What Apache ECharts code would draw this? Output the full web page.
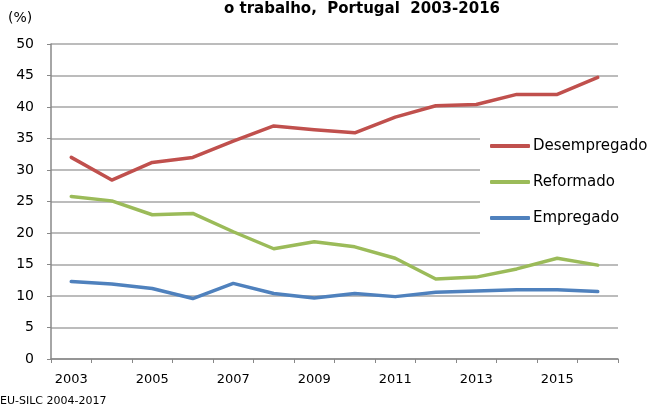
<!DOCTYPE html>
<html>
<head>
<meta charset="utf-8">
<script src="https://cdn.jsdelivr.net/npm/echarts@6/dist/echarts.min.js"></script>
<style>
    html, body { margin: 0; padding: 0; background: #fff; }
    #chart { width: 649px; height: 407px; }
</style>
</head>
<body>
<div id="chart"></div>
<script>
// anos e valores (%)
var years = ["2003", "2004", "2005", "2006", "2007", "2008", "2009", "2010", "2011", "2012", "2013", "2014", "2015", "2016"];
var desempregado = [32.0, 28.4, 31.2, 32.0, 34.6, 37.0, 36.4, 35.9, 38.4, 40.2, 40.4, 42.0, 42.0, 44.7];
var reformado = [25.8, 25.1, 22.9, 23.1, 20.2, 17.5, 18.6, 17.8, 16.0, 12.7, 13.0, 14.3, 16.0, 14.9];
var empregado = [12.3, 11.9, 11.2, 9.6, 12.0, 10.4, 9.7, 10.4, 9.9, 10.6, 10.8, 11.0, 11.0, 10.7];

var font = "DejaVu Sans";
var myChart = echarts.init(document.getElementById("chart"));

function makeLine(name, data, color) {
    return {
        name: name,
        type: "line",
        data: data,
        symbol: "none",
        lineStyle: { color: color, width: 3.5, cap: "round", join: "round" },
        itemStyle: { color: color },
    };
}

var option = {
    animation: false,
    backgroundColor: "#fff",
    grid: { left: 51, right: 31, top: 44, bottom: 48 },
    graphic: [
        {
            type: "text", x: 362, y: 9,
            style: { text: "o trabalho,  Portugal  2003-2016", font: "bold 15px " + font, fill: "#000", textAlign: "center", textVerticalAlign: "middle" },
        },
        {
            type: "text", left: 8, top: 11,
            style: { text: "(%)", font: "14px " + font, fill: "#000" },
        },
        {
            type: "text", left: 0, top: 396,
            style: { text: "EU-SILC 2004-2017", font: "11px " + font, fill: "#000" },
        },
    ],
    legend: {
        orient: "vertical",
        left: 480,
        top: 128,
        padding: [10, 20, 16, 10],
        backgroundColor: "#fff",
        icon: "roundRect",
        itemWidth: 40,
        itemHeight: 4,
        itemGap: 20,
        textStyle: { fontFamily: font, fontSize: 15, lineHeight: 16, color: "#000", padding: [0, 0, 0, -2] },
        data: ["Desempregado", "Reformado", "Empregado"],
        z: 10,
    },
    xAxis: {
        type: "category",
        data: years,
        boundaryGap: true,
        axisLine: { lineStyle: { color: "#888", width: 1.5 } },
        axisTick: { show: true, interval: 0, length: 4, lineStyle: { color: "#888" } },
        axisLabel: { interval: 1, margin: 14, fontFamily: font, fontSize: 13, color: "#000" },
    },
    yAxis: {
        type: "value",
        min: 0,
        max: 50,
        interval: 5,
        axisLine: { show: true, lineStyle: { color: "#888", width: 1.5 } },
        axisTick: { show: true, length: 4, lineStyle: { color: "#888" } },
        axisLabel: { margin: 17, fontFamily: font, fontSize: 14, color: "#000" },
        splitLine: { lineStyle: { color: "#a6a6a6", width: 1.5 } },
    },
    series: [
        makeLine("Desempregado", desempregado, "#C0504D"),
        makeLine("Reformado", reformado, "#9BBB59"),
        makeLine("Empregado", empregado, "#4F81BD"),
    ],
};

myChart.setOption(option);
</script>
</body>
</html>
